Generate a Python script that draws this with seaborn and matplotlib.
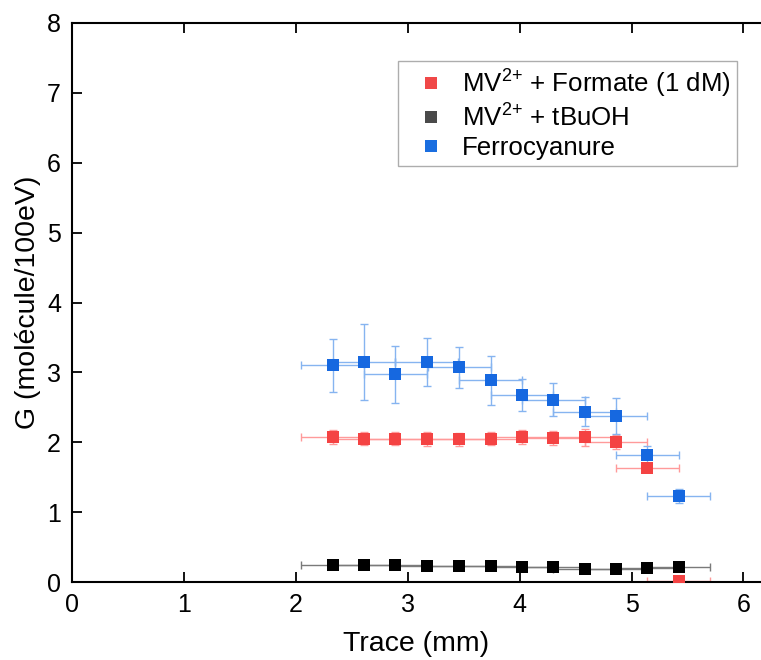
import matplotlib
matplotlib.use("Agg")
import matplotlib.pyplot as plt
from matplotlib.lines import Line2D
import seaborn as sns
import pandas as pd

# ---- data ----
trace = [2.33, 2.61, 2.89, 3.17, 3.46, 3.74, 4.02, 4.30, 4.58, 4.86, 5.14, 5.42]
trace_err = [0.28] * 12
formate = [2.08, 2.05, 2.05, 2.05, 2.04, 2.05, 2.08, 2.06, 2.07, 2.00, 1.63, 0.01]
formate_err = [0.10, 0.09, 0.09, 0.10, 0.09, 0.09, 0.10, 0.10, 0.12, 0.10, 0.0, 0.0]
tbuoh = [0.25, 0.24, 0.24, 0.23, 0.23, 0.23, 0.22, 0.21, 0.19, 0.19, 0.20, 0.21]
tbuoh_err = [0.02] * 12
ferro = [3.10, 3.15, 2.97, 3.15, 3.07, 2.89, 2.68, 2.61, 2.44, 2.38, 1.82, 1.23]
ferro_err = [0.38, 0.54, 0.41, 0.34, 0.30, 0.35, 0.23, 0.24, 0.21, 0.26, 0.13, 0.10]

labels = [r"MV$^{2{+}}$ + Formate (1 dM)", r"MV$^{2{+}}$ + tBuOH", "Ferrocyanure"]
x_ticks = [0, 1, 2, 3, 4, 5, 6]
y_ticks = [0, 1, 2, 3, 4, 5, 6, 7, 8]

sns.set_theme(style="ticks")
plt.rcParams["font.family"] = ["Liberation Sans", "DejaVu Sans"]
plt.rcParams["mathtext.default"] = "regular"
for key in ["text.color", "axes.labelcolor", "xtick.color", "ytick.color",
            "xtick.labelcolor", "ytick.labelcolor"]:
    plt.rcParams[key] = "black"

fig = plt.figure(figsize=(7.61, 6.60), dpi=100)
ax = fig.add_axes([72 / 761, 1 - 582 / 660, 1 - 72 / 761, (582 - 23) / 660])

series = [
    (formate, formate_err, "#F44343", "#FF9A9A", "#F04848"),
    (tbuoh, tbuoh_err, "#000000", "#7A7A7A", "#4A4A4A"),
    (ferro, ferro_err, "#1668E0", "#86B4F0", "#1A6EE0"),
]

for (vals, errs, col, ecol, _), lab in zip(series, labels):
    ax.errorbar(trace, vals, xerr=trace_err, yerr=errs, fmt="none",
                ecolor=ecol, elinewidth=1.0, capsize=3.2, capthick=1.0, zorder=2)
    df = pd.DataFrame({"x": trace, "y": vals})
    sns.scatterplot(data=df, x="x", y="y", ax=ax, marker="s", s=78,
                    color=col, linewidth=0, zorder=3, legend=False)

ax.set_xlim(0, 6.157)
ax.set_ylim(0, 8)
ax.set_xticks(x_ticks)
ax.set_yticks(y_ticks)
ax.set_xlabel("Trace (mm)", fontsize=20.5, labelpad=10)
ax.set_ylabel("G (molécule/100eV)", fontsize=20.5, labelpad=4)

ax.tick_params(axis="both", direction="in", length=7.5, width=1.3,
               labelsize=18, pad=8, top=True, right=False, color="black")
ax.spines["right"].set_visible(False)
for s in ["left", "bottom", "top"]:
    ax.spines[s].set_linewidth(1.5)
    ax.spines[s].set_color("black")

handles = [Line2D([], [], marker="s", linestyle="none", markersize=9,
                  markerfacecolor=lc, markeredgewidth=0)
           for (_, _, _, _, lc) in series]
leg = fig.legend(handles, labels, loc="upper right",
                 bbox_to_anchor=(737 / 761, 1 - 61 / 660),
                 bbox_transform=fig.transFigure, fontsize=18.6,
                 frameon=True, fancybox=False, borderaxespad=0,
                 handletextpad=0.15, labelspacing=0.17, borderpad=0.25,
                 handlelength=2.06)
leg.get_frame().set_edgecolor("#999999")
leg.get_frame().set_linewidth(1.0)

fig.savefig("out.png", dpi=100)
